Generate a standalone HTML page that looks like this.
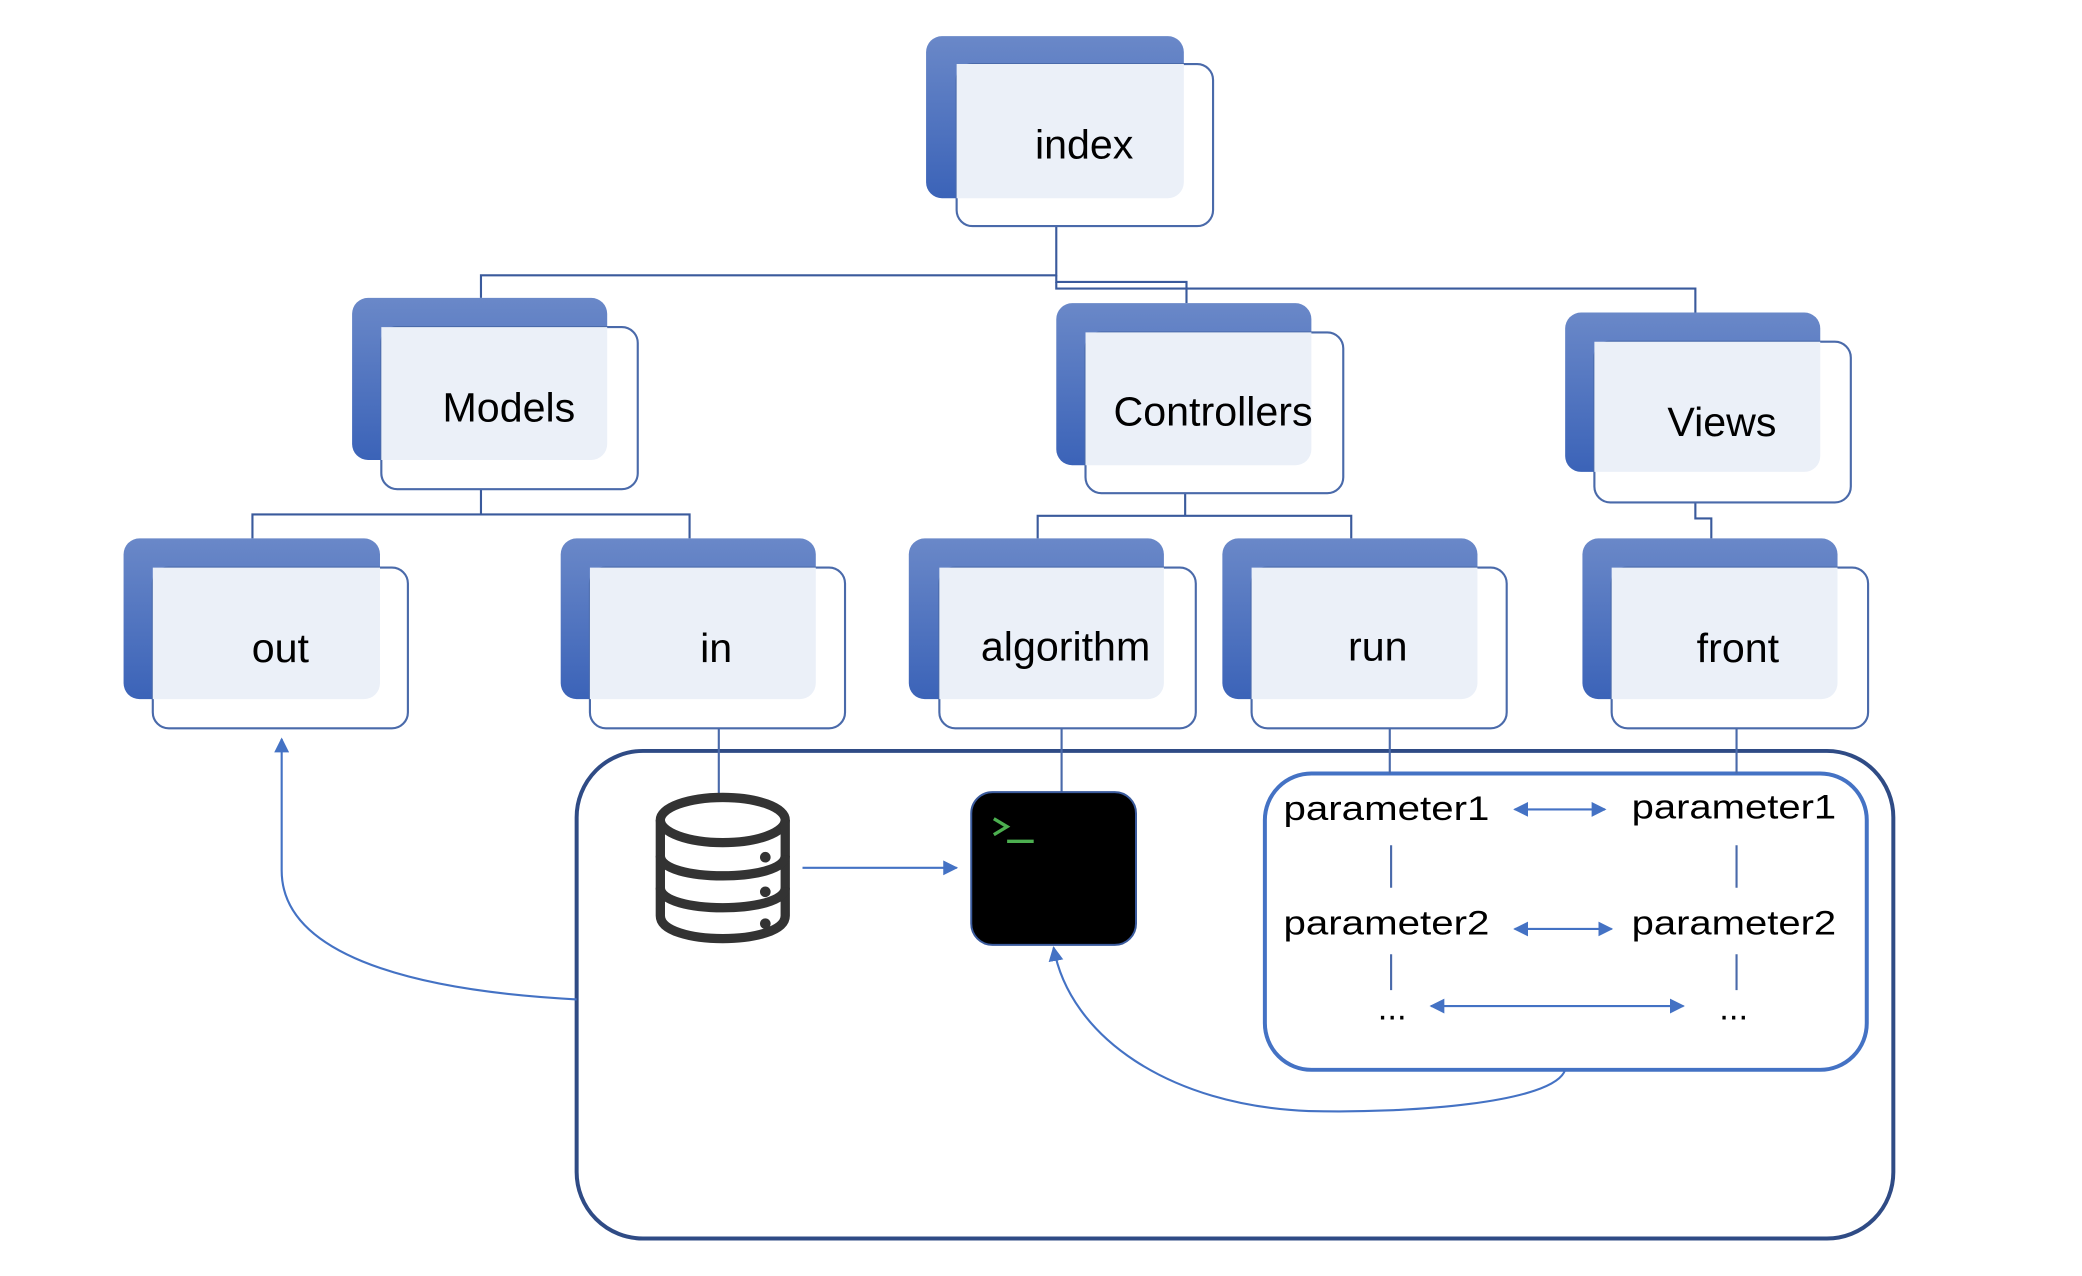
<!DOCTYPE html>
<html><head><meta charset="utf-8"><style>html,body{margin:0;padding:0;background:#fff}svg{display:block}</style></head>
<body>
<svg width="2082" height="1276" viewBox="0 0 1567 960" xmlns="http://www.w3.org/2000/svg" font-family="Liberation Sans, sans-serif">
<defs>
<linearGradient id="g" x1="0" y1="0" x2="0" y2="1"><stop offset="0" stop-color="#6a88c8"/><stop offset="1" stop-color="#3b63b8"/></linearGradient>
<marker id="a" viewBox="0 0 10 10" refX="9" refY="5" markerWidth="7" markerHeight="7" orient="auto-start-reverse"><path d="M0,0 L10,5 L0,10 z" fill="#4472c4"/></marker>
</defs>
<g fill="none" stroke="#3a5a9c" stroke-width="1.6">
<path d="M795,170 V207 H362 V224"/>
<path d="M795,207 V212 H893 V228"/>
<path d="M795,212 V217 H1276 V235"/>
<path d="M362,368 V387 H190 V405 M362,387 H519 V405"/>
<path d="M892,371 V388 H781 V405 M892,388 H1017 V405"/>
<path d="M1276,378 V390 H1288 V405"/>
</g>
<g id="nodes">
<g><rect x="697" y="27" width="194" height="122" rx="12" fill="url(#g)"/><rect x="720" y="48" width="193" height="122" rx="12" fill="#fff" stroke="#4a6aaa" stroke-width="1.6"/><path d="M720,48 H891 V137 a12,12 0 0 1 -12,12 H720 z" fill="#ebf0f8"/><text x="816" y="119" font-size="31" text-anchor="middle">index</text></g>
<g><rect x="265" y="224" width="192" height="122" rx="12" fill="url(#g)"/><rect x="287" y="246" width="193" height="122" rx="12" fill="#fff" stroke="#4a6aaa" stroke-width="1.6"/><path d="M287,246 H457 V334 a12,12 0 0 1 -12,12 H287 z" fill="#ebf0f8"/><text x="383" y="317" font-size="31" text-anchor="middle">Models</text></g>
<g><rect x="795" y="228" width="192" height="122" rx="12" fill="url(#g)"/><rect x="817" y="250" width="194" height="121" rx="12" fill="#fff" stroke="#4a6aaa" stroke-width="1.6"/><path d="M817,250 H987 V338 a12,12 0 0 1 -12,12 H817 z" fill="#ebf0f8"/><text x="913" y="320" font-size="31" text-anchor="middle">Controllers</text></g>
<g><rect x="1178" y="235" width="192" height="120" rx="12" fill="url(#g)"/><rect x="1200" y="257" width="193" height="121" rx="12" fill="#fff" stroke="#4a6aaa" stroke-width="1.6"/><path d="M1200,257 H1370 V343 a12,12 0 0 1 -12,12 H1200 z" fill="#ebf0f8"/><text x="1296" y="328" font-size="31" text-anchor="middle">Views</text></g>
<g><rect x="93" y="405" width="193" height="121" rx="12" fill="url(#g)"/><rect x="115" y="427" width="192" height="121" rx="12" fill="#fff" stroke="#4a6aaa" stroke-width="1.6"/><path d="M115,427 H286 V514 a12,12 0 0 1 -12,12 H115 z" fill="#ebf0f8"/><text x="211" y="498" font-size="31" text-anchor="middle">out</text></g>
<g><rect x="422" y="405" width="192" height="121" rx="12" fill="url(#g)"/><rect x="444" y="427" width="192" height="121" rx="12" fill="#fff" stroke="#4a6aaa" stroke-width="1.6"/><path d="M444,427 H614 V514 a12,12 0 0 1 -12,12 H444 z" fill="#ebf0f8"/><text x="539" y="498" font-size="31" text-anchor="middle">in</text></g>
<g><rect x="684" y="405" width="192" height="121" rx="12" fill="url(#g)"/><rect x="707" y="427" width="193" height="121" rx="12" fill="#fff" stroke="#4a6aaa" stroke-width="1.6"/><path d="M707,427 H876 V514 a12,12 0 0 1 -12,12 H707 z" fill="#ebf0f8"/><text x="802" y="497" font-size="31" text-anchor="middle">algorithm</text></g>
<g><rect x="920" y="405" width="192" height="121" rx="12" fill="url(#g)"/><rect x="942" y="427" width="192" height="121" rx="12" fill="#fff" stroke="#4a6aaa" stroke-width="1.6"/><path d="M942,427 H1112 V514 a12,12 0 0 1 -12,12 H942 z" fill="#ebf0f8"/><text x="1037" y="497" font-size="31" text-anchor="middle">run</text></g>
<g><rect x="1191" y="405" width="192" height="121" rx="12" fill="url(#g)"/><rect x="1213" y="427" width="193" height="121" rx="12" fill="#fff" stroke="#4a6aaa" stroke-width="1.6"/><path d="M1213,427 H1383 V514 a12,12 0 0 1 -12,12 H1213 z" fill="#ebf0f8"/><text x="1308" y="498" font-size="31" text-anchor="middle">front</text></g>
</g>
<rect x="434" y="565" width="991" height="367" rx="50" fill="none" stroke="#2f4b85" stroke-width="3"/>
<rect x="952" y="582" width="453" height="223" rx="35" fill="none" stroke="#4472c4" stroke-width="3"/>
<g stroke="#4a6aaa" stroke-width="1.6" fill="none">
<path d="M541,548 V597 M799,548 V596 M1046,548 V582 M1307,548 V582"/>
<path d="M1047,636 V668 M1047,718 V745 M1307,636 V668 M1307,718 V745"/>
</g>
<g stroke="#4472c4" stroke-width="1.6" fill="none">
<path d="M604,653 H720" marker-end="url(#a)"/>
<path d="M1140,609 H1208" marker-start="url(#a)" marker-end="url(#a)"/>
<path d="M1140,699 H1213" marker-start="url(#a)" marker-end="url(#a)"/>
<path d="M1077,757 H1267" marker-start="url(#a)" marker-end="url(#a)"/>
<path d="M434,752 C300,745 212,715 212,655 L212,556" marker-end="url(#a)"/>
<path d="M1178,805 C1170,830 1060,838 985,836 C880,832 805,780 793,713" marker-end="url(#a)"/>
</g>
<g fill="none" stroke="#333" stroke-width="7">
<ellipse cx="544" cy="617" rx="47" ry="17"/>
<path d="M497,617 V689 C497,712 591,712 591,689 V617"/>
<path d="M497,644 C497,664 591,664 591,644 M497,668 C497,688 591,688 591,668"/>
</g>
<g fill="#333"><circle cx="576" cy="645" r="4"/><circle cx="576" cy="671" r="4"/><circle cx="576" cy="695" r="4"/></g>
<rect x="731" y="596" width="124" height="115" rx="16" fill="#000" stroke="#3a5a9c" stroke-width="1.5"/>
<path d="M748,616 L758,622 L748,628" fill="none" stroke="#4caf50" stroke-width="2.5"/>
<path d="M758,633 H778" stroke="#4caf50" stroke-width="2.5"/>
<g font-size="26" fill="#000">
<text x="966" y="617" textLength="155" lengthAdjust="spacingAndGlyphs">parameter1</text><text x="1228" y="616" textLength="154" lengthAdjust="spacingAndGlyphs">parameter1</text>
<text x="966" y="703" textLength="155" lengthAdjust="spacingAndGlyphs">parameter2</text><text x="1228" y="703" textLength="154" lengthAdjust="spacingAndGlyphs">parameter2</text>
<text x="1037" y="767">...</text><text x="1294" y="767">...</text>
</g>
</svg>
</body></html>
